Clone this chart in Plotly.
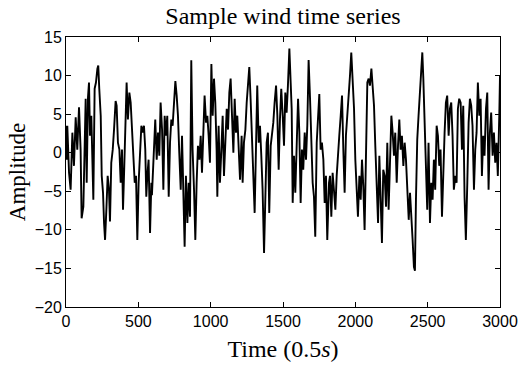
import plotly.graph_objects as go

time = [
    0, 5, 9, 21, 32, 44, 55, 67, 78, 90, 101, 108, 120, 129, 136, 143, 152, 159, 166, 175,
    182, 189, 198, 207, 217, 223, 230, 240, 247, 256, 263, 270, 279, 288, 297, 304, 313, 323, 332, 343,
    350, 359, 369, 378, 387, 394, 403, 412, 419, 428, 438, 447, 456, 465, 475, 484, 493, 502, 511, 521,
    530, 539, 548, 555, 562, 571, 581, 590,
    594, 606, 617, 627, 636, 645, 654, 664, 673, 682, 691, 700, 710, 719, 728, 737, 746, 756, 765, 774,
    783, 793, 802, 811, 820, 829, 839, 848, 857, 866, 875, 885, 894, 903, 912, 922, 931, 940, 949, 958,
    968, 977, 986, 995, 1005, 1014, 1023, 1032, 1041, 1046, 1055, 1064, 1074, 1083, 1092, 1101, 1111, 1120,
    1129, 1138, 1147, 1157, 1166, 1175, 1184, 1193, 1203,
    1214, 1221, 1230, 1240, 1249, 1258, 1267, 1276, 1286, 1295, 1304, 1313, 1322, 1332, 1341, 1350, 1359,
    1369, 1378, 1387, 1396, 1405, 1415, 1424, 1433, 1442, 1452, 1461, 1470, 1479, 1488, 1498, 1507, 1516,
    1525, 1534, 1544, 1553, 1560, 1567, 1576, 1585, 1594, 1604, 1613, 1622, 1631, 1640, 1650, 1659, 1668,
    1677, 1687, 1696, 1705, 1714, 1723, 1733, 1742, 1751, 1760, 1769, 1779, 1788, 1797, 1806,
    1818, 1825, 1834, 1843, 1852, 1862, 1871, 1880, 1889, 1899, 1908, 1917, 1926, 1935, 1945, 1954, 1963,
    1972, 1981, 1991, 2000, 2009, 2018, 2028, 2037, 2046, 2055, 2064, 2074, 2083, 2092, 2101, 2111, 2120,
    2129, 2138, 2147, 2157, 2166, 2175, 2184, 2193, 2203, 2212, 2221, 2230, 2240, 2249, 2258, 2267, 2276,
    2286, 2295, 2304, 2313, 2322, 2332, 2341, 2350, 2359, 2369, 2378, 2387, 2396, 2405,
    2412, 2419, 2428, 2437, 2446, 2456, 2463, 2470, 2479, 2488, 2497, 2506, 2516, 2525, 2534, 2543, 2552,
    2562, 2571, 2580, 2589, 2599, 2608, 2617, 2626, 2635, 2645, 2654, 2663, 2672, 2681, 2691, 2700, 2709,
    2718, 2728, 2737, 2746, 2755, 2764, 2774, 2783, 2792, 2801, 2810, 2820, 2829, 2838, 2847, 2857, 2866,
    2875, 2884, 2893, 2903, 2912, 2921, 2930, 2939, 2949, 2958, 2967, 2976, 2985, 2995, 3000,
]

amplitude = [
    3.5, -0.9, 3.5, -2.6, -4.8, 2.6, -1.7, 4.6, 0.4, 5.9, 0.4, -8.5, -7.0, 0.4, 7.0, -3.9, 7.2, 9.1, 2.2, 4.8,
    -0.9, -6.1, 8.3, 9.1, 10.9, 11.3, 8.3, 4.8, -3.0, -5.2, -9.1, -11.3, -7.4, -3.0, -4.8, -8.9, -1.3, 0.4, 3.0, 6.7,
    6.1, 1.3, 0.4, -3.9, 0.4, -7.4, -1.7, 4.8, 9.1, 4.3, 7.8, 6.5, 2.6, 0.4, -3.9, -3.0, -11.3, -3.9, 0.4, 3.5,
    2.6, 3.5, 0.4, -5.7, -3.0, -0.9, -10.4, -3.9,
    -5.5, 0.4, 4.3, -0.9, 2.6, -0.4, 6.5, 3.0, -4.8, 4.8, 2.2, 4.8, -5.7, 1.3, 4.3, 3.5, 7.0, 9.3, 7.4, 4.8,
    0.0, -4.8, 2.2, -3.9, -12.2, -3.0, -9.1, -3.9, -8.3, 12.0, 0.4, -4.8, -11.3, -3.9, 0.9, -0.9, 2.2, -2.6, 2.6, 7.4,
    3.9, 4.8, 2.2, -1.3, 11.5, 4.8, 9.6, 6.5, 0.4, -5.7, 3.5, -3.9, 0.4, 4.8, -3.0, 2.2, 5.7, 3.0,
    7.8, 9.6, 4.8, 0.0, 7.0, 2.6, 4.8, 0.4, -3.5,
    2.2, -3.9, 1.3, 3.0, 6.5, 9.1, 11.1, 7.0, 1.3, -3.0, -7.8, 0.4, 8.7, 1.3, 3.5, -0.4, -4.8,
    -13.0, -3.5, 1.3, 2.6, -7.8, 0.9, 2.2, 3.9, 6.5, 8.7, 4.8, -2.2, 4.3, 8.3, 4.8, 0.9, 7.8,
    5.2, 8.7, 13.5, 9.1, 5.7, -6.5, -0.4, -5.2, 2.6, 7.0, 2.6, -6.5, 0.4, -2.2, 2.6, -0.9, 3.5,
    12.0, 7.0, 0.4, -3.9, -5.7, -10.9, 1.3, 4.8, 7.6, 0.4, 1.3, -0.9, -6.5, -3.0, -11.3,
    -3.9, -3.0, -8.3, -2.6, -4.8, -7.4, -3.0, 0.4, 2.2, 4.8, 7.4, 0.4, -5.2, 2.2, 4.8, 6.5, 10.0,
    13.0, 9.1, 5.7, -0.9, -4.8, -8.3, -3.0, -6.1, -0.9, -4.3, -10.0, 1.3, 9.1, 9.6, 8.7, 10.9, 8.7,
    6.1, 0.9, -4.8, -9.1, -0.4, -4.8, -11.7, -2.2, -3.0, -7.0, 1.3, -7.4, -2.2, 4.8, 2.6, -0.4, 2.6,
    -3.9, 0.9, 4.3, 0.4, 2.2, -1.7, 1.3, -0.9, -4.8, -8.7, -5.2, -7.8, -11.3, -14.8,
    -15.3, -6.1, 1.7, 4.8, 8.3, 11.3, 13.0, 9.6, 2.6, -0.9, -7.4, 1.3, -9.1, -3.9, -6.1, -0.9, -4.8,
    3.5, 2.2, -1.7, 0.4, -8.3, -1.7, 2.6, 6.5, 7.4, 2.2, 5.7, 6.5, 2.2, -4.8, -3.0, -3.9, 5.7,
    7.0, 6.5, 0.4, 6.1, -5.7, -11.3, -3.9, 3.9, 7.0, 6.1, 3.5, -4.8, 0.4, 2.6, 9.1, 4.8, 7.0,
    -3.0, 2.2, -0.4, 5.7, 7.8, -4.8, 2.6, 5.2, -0.4, 2.6, -1.3, 1.3, -3.0, 4.8, 10.0,
]

x_ticks = [0, 500, 1000, 1500, 2000, 2500, 3000]
y_ticks = [-20, -15, -10, -5, 0, 5, 10, 15]

SERIF = "Liberation Serif, Times New Roman, serif"
SANS = "Liberation Sans, Arial, sans-serif"

fig = go.Figure()
fig.add_trace(go.Scatter(
    x=time, y=amplitude, mode="lines",
    line=dict(color="black", width=1.9),
    showlegend=False,
))

axis_common = dict(
    showline=True, linecolor="black", linewidth=1,
    mirror="ticks", ticks="inside", ticklen=5, tickwidth=1, tickcolor="black",
    showgrid=False, zeroline=False, automargin=False,
    tickfont=dict(family=SANS, size=16, color="black"),
)

fig.update_layout(
    width=519, height=367,
    margin=dict(l=66, r=19, t=37, b=60),
    paper_bgcolor="white", plot_bgcolor="white",
    title=dict(
        text="Sample wind time series",
        font=dict(family=SERIF, size=24, color="black"),
        x=0.5, xref="paper", xanchor="center",
        y=1 - 16 / 367, yref="container", yanchor="middle",
    ),
    xaxis=dict(
        range=[0, 3000], tickvals=x_ticks, ticklabelstandoff=0,
        title=dict(text="Time (0.5<i>s</i>)", standoff=10,
                   font=dict(family=SERIF, size=24, color="black")),
        **axis_common,
    ),
    yaxis=dict(
        range=[-20, 15], tickvals=y_ticks,
        title=dict(text="Amplitude", standoff=2,
                   font=dict(family=SERIF, size=23, color="black")),
        **axis_common,
    ),
)

fig.write_html("out.html")
